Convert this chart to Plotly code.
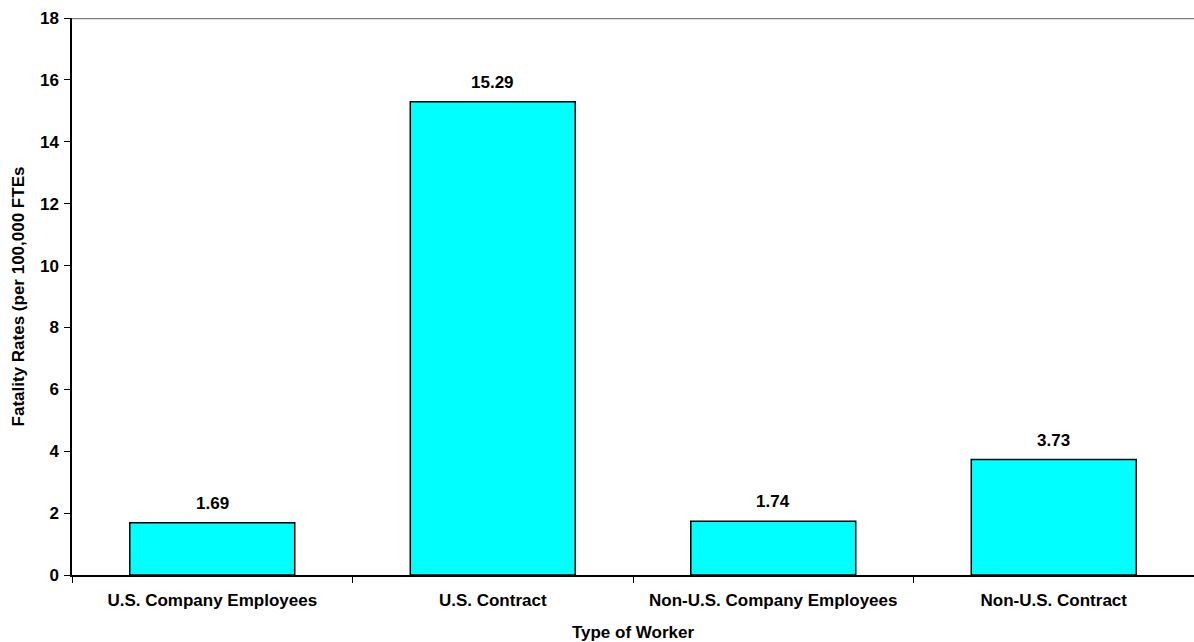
import plotly.graph_objects as go

categories = ["U.S. Company Employees", "U.S. Contract", "Non-U.S. Company Employees", "Non-U.S. Contract"]
rates = [1.69, 15.29, 1.74, 3.73]
labels = ["1.69", "15.29", "1.74", "3.73"]
y_ticks = [0, 2, 4, 6, 8, 10, 12, 14, 16, 18]

font_family = "Liberation Sans, Arial, sans-serif"
FS = 17

def bold(size=FS):
    return dict(family=font_family, size=size, color="black", weight="bold")

fig = go.Figure()
fig.add_trace(go.Bar(
    x=categories, y=rates,
    marker=dict(color="#00FFFF", line=dict(color="black", width=1.5)),
    width=0.588, hoverinfo="skip",
))

for c, v, t in zip(categories, rates, labels):
    fig.add_annotation(x=c, y=v, text=t, showarrow=False, yanchor="bottom",
                       yshift=8, font=bold())

fig.add_shape(type="line", xref="paper", yref="y", x0=0, x1=1, y0=18, y1=18,
              line=dict(color="#808080", width=2.5))

fig.update_layout(
    width=1194, height=642,
    margin=dict(l=72, r=0, t=18, b=67),
    plot_bgcolor="white", paper_bgcolor="white",
    showlegend=False,
    font=bold(),
    xaxis=dict(
        title=dict(text="Type of Worker", font=bold(), standoff=17),
        tickfont=bold(), ticklabelstandoff=9,
        ticks="outside", ticklen=6, tickcolor="black", tickson="boundaries",
        showline=True, linecolor="black", linewidth=1.5,
        showgrid=False, automargin=False,
    ),
    yaxis=dict(
        title=dict(text="Fatality Rates (per 100,000 FTEs", font=bold(), standoff=11),
        range=[0, 18], tickvals=y_ticks,
        tickfont=bold(), ticklabelstandoff=2,
        ticks="outside", ticklen=6, tickcolor="black",
        showline=True, linecolor="black", linewidth=1.5,
        showgrid=False, zeroline=False, automargin=False,
    ),
)

fig.write_html("out.html", config={"displayModeBar": False},
               post_script="document.body.style.margin='0';")
